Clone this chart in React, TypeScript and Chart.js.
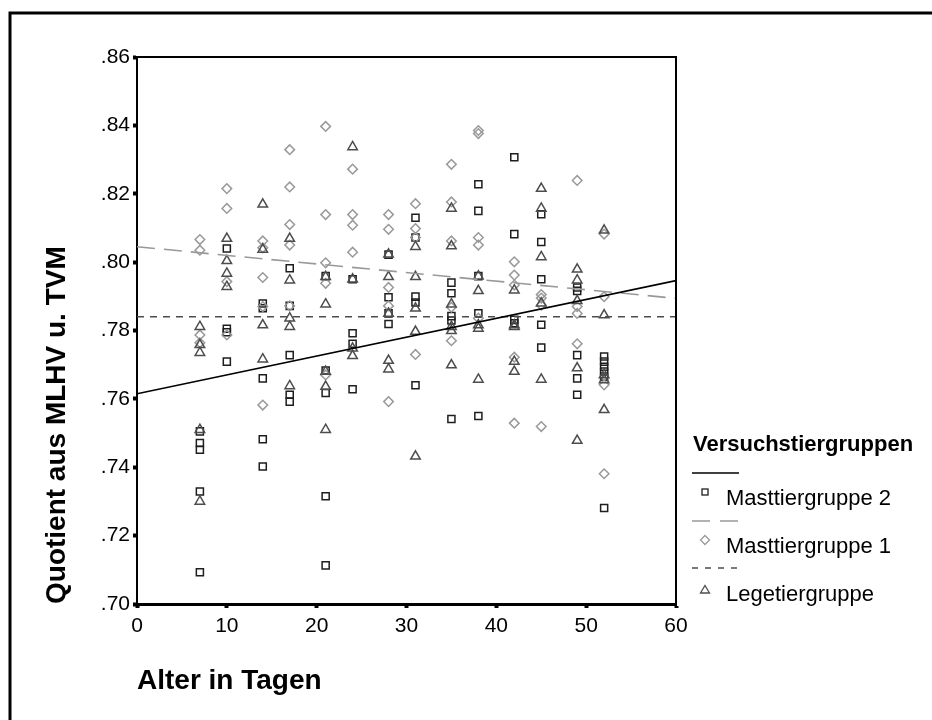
import React, { useEffect, useRef } from 'react';
import { Chart, registerables } from 'chart.js';

Chart.register(...registerables);

// ---- data ----
const ages = [7, 10, 14, 17, 21, 24, 28, 31, 35, 38, 42, 45, 49, 52];

const mast2Values = [
  [0.7505, 0.7471, 0.7451, 0.7329, 0.7093],
  [0.804, 0.7805, 0.7795, 0.7709],
  [0.7879, 0.7865, 0.766, 0.7482, 0.7402],
  [0.7982, 0.7872, 0.7728, 0.7612, 0.7592],
  [0.7959, 0.7683, 0.7617, 0.7315, 0.7113],
  [0.795, 0.7792, 0.7761, 0.7628],
  [0.8022, 0.7897, 0.785, 0.7819],
  [0.813, 0.8072, 0.7899, 0.7882, 0.764],
  [0.794, 0.7909, 0.7842, 0.7829, 0.7541],
  [0.8228, 0.815, 0.7959, 0.785, 0.755],
  [0.8307, 0.8082, 0.7831, 0.7821],
  [0.814, 0.8059, 0.795, 0.7817, 0.775],
  [0.7926, 0.7916, 0.7728, 0.766, 0.7612],
  [0.7724, 0.7709, 0.7694, 0.768, 0.7665, 0.7281],
];

const mast1Values = [
  [0.8066, 0.8035, 0.7787, 0.7764],
  [0.8215, 0.8157, 0.7943, 0.7787],
  [0.8062, 0.8042, 0.7955, 0.787, 0.7582],
  [0.8329, 0.822, 0.811, 0.805, 0.7872],
  [0.8397, 0.8139, 0.7998, 0.7938, 0.767],
  [0.8272, 0.8139, 0.8108, 0.8029],
  [0.8139, 0.8096, 0.7926, 0.7872, 0.7592],
  [0.8171, 0.8098, 0.8072, 0.773],
  [0.8286, 0.8176, 0.8062, 0.7868, 0.777],
  [0.8385, 0.8376, 0.8072, 0.805, 0.7836],
  [0.8001, 0.7962, 0.7933, 0.7722, 0.7529],
  [0.7905, 0.7895, 0.7874, 0.7519],
  [0.8239, 0.787, 0.785, 0.7761],
  [0.8082, 0.7899, 0.7641, 0.7381],
];

const legeValues = [
  [0.7811, 0.7758, 0.7735, 0.751, 0.73],
  [0.8069, 0.8004, 0.7967, 0.7928],
  [0.8169, 0.8037, 0.7816, 0.7716],
  [0.8069, 0.7947, 0.7836, 0.7811, 0.7638],
  [0.7957, 0.7877, 0.768, 0.7636, 0.751],
  [0.8337, 0.795, 0.7748, 0.7726],
  [0.8023, 0.7957, 0.785, 0.7712, 0.7687],
  [0.8045, 0.7957, 0.7865, 0.7797, 0.7432],
  [0.8157, 0.8047, 0.7877, 0.7811, 0.7799, 0.7699],
  [0.7959, 0.7916, 0.7816, 0.7806, 0.7657],
  [0.7918, 0.7816, 0.7811, 0.7709, 0.768],
  [0.8215, 0.8157, 0.8015, 0.788, 0.7657],
  [0.7979, 0.7947, 0.7887, 0.769, 0.7478],
  [0.8093, 0.7845, 0.767, 0.7655, 0.7568],
];

// fit lines (end values at x = 0 and x = 60)
const fitX = [0, 60];
const mast2Fit = [0.7615, 0.7946];
const mast1Fit = [0.8045, 0.7894];
const legeFit = [0.784, 0.784];

const xTicks = [0, 10, 20, 30, 40, 50, 60];
const yTicks = [0.7, 0.72, 0.74, 0.76, 0.78, 0.8, 0.82, 0.84, 0.86];

const seriesNames = ['Masttiergruppe 2', 'Masttiergruppe 1', 'Legetiergruppe'];
const legendTitle = 'Versuchstiergruppen';
const xTitle = 'Alter in Tagen';
const yTitle = 'Quotient aus MLHV u. TVM';

// ---- styles ----
const FONT = '"Liberation Sans", Arial, sans-serif';
const C_SQ = '#1e1e1e';
const C_DI = '#999999';
const C_TR = '#4d4d4d';

function toPoints(values: number[][]) {
  const pts: { x: number; y: number }[] = [];
  ages.forEach((a, i) => values[i].forEach((v) => pts.push({ x: a, y: v })));
  return pts;
}

function fitPoints(fit: number[]) {
  return fitX.map((x, i) => ({ x, y: fit[i] }));
}

const decorPlugin = {
  id: 'decor',
  afterDraw(chart: any) {
    const ctx = chart.ctx as CanvasRenderingContext2D;
    const a = chart.chartArea;
    ctx.save();
    // outer frame (left and top edges)
    ctx.strokeStyle = '#000';
    ctx.lineWidth = 3;
    ctx.beginPath();
    ctx.moveTo(10, 720);
    ctx.lineTo(10, 13);
    ctx.lineTo(932, 13);
    ctx.stroke();

    // chart area top and right edges
    ctx.lineWidth = 2;
    ctx.beginPath();
    ctx.moveTo(a.left, a.top);
    ctx.lineTo(a.right, a.top);
    ctx.lineTo(a.right, a.bottom);
    ctx.stroke();

    // legend
    const lx = 692;
    const lw = 47;
    const mx = 705;
    const tx = 726;
    ctx.fillStyle = '#000';
    ctx.textBaseline = 'alphabetic';
    ctx.textAlign = 'left';
    ctx.font = 'bold 22px ' + FONT;
    ctx.fillText(legendTitle, 693, 451);

    const drawLine = (y: number, color: string, dash: number[]) => {
      ctx.save();
      ctx.strokeStyle = color;
      ctx.lineWidth = 1.5;
      ctx.setLineDash(dash);
      ctx.beginPath();
      ctx.moveTo(lx, y);
      ctx.lineTo(lx + lw, y);
      ctx.stroke();
      ctx.restore();
    };
    ctx.font = '22px ' + FONT;

    // Masttiergruppe 2
    drawLine(473, '#000', []);
    ctx.strokeStyle = C_SQ;
    ctx.lineWidth = 1.3;
    ctx.strokeRect(mx - 3, 492 - 3, 6, 6);
    ctx.fillText(seriesNames[0], tx, 505);

    // Masttiergruppe 1
    drawLine(521, C_DI, [18, 10]);
    ctx.strokeStyle = C_DI;
    ctx.beginPath();
    ctx.moveTo(mx, 540 - 4.5);
    ctx.lineTo(mx + 4.5, 540);
    ctx.lineTo(mx, 540 + 4.5);
    ctx.lineTo(mx - 4.5, 540);
    ctx.closePath();
    ctx.stroke();
    ctx.fillText(seriesNames[1], tx, 553);

    // Legetiergruppe
    drawLine(568, C_TR, [6, 7]);
    ctx.strokeStyle = C_TR;
    ctx.beginPath();
    ctx.moveTo(mx, 590 - 4.5);
    ctx.lineTo(mx + 4.5, 590 + 3);
    ctx.lineTo(mx - 4.5, 590 + 3);
    ctx.closePath();
    ctx.stroke();
    ctx.fillText(seriesNames[2], tx, 601);

    ctx.restore();
  },
};

export default function App() {
  const ref = useRef<HTMLCanvasElement | null>(null);

  useEffect(() => {
    if (!ref.current) return;
    const chart = new Chart(ref.current, {
      type: 'scatter',
      data: {
        datasets: [
          {
            type: 'line',
            label: seriesNames[0] + ' fit',
            data: fitPoints(mast2Fit),
            borderColor: '#000',
            borderWidth: 1.6,
            pointRadius: 0,
            order: 0,
          } as any,
          {
            type: 'line',
            label: seriesNames[1] + ' fit',
            data: fitPoints(mast1Fit),
            borderColor: C_DI,
            borderWidth: 1.6,
            borderDash: [18, 9],
            pointRadius: 0,
            order: 0,
          } as any,
          {
            type: 'line',
            label: seriesNames[2] + ' fit',
            data: fitPoints(legeFit),
            borderColor: C_TR,
            borderWidth: 1.5,
            borderDash: [7, 6],
            pointRadius: 0,
            order: 0,
          } as any,
          {
            label: seriesNames[2],
            data: toPoints(legeValues),
            pointStyle: 'triangle',
            pointRadius: 5.5,
            borderColor: C_TR,
            backgroundColor: 'rgba(0,0,0,0)',
            borderWidth: 1.5,
            order: 1,
          },
          {
            label: seriesNames[1],
            data: toPoints(mast1Values),
            pointStyle: 'rectRot',
            pointRadius: 4.8,
            borderColor: C_DI,
            backgroundColor: 'rgba(0,0,0,0)',
            borderWidth: 1.5,
            order: 2,
          },
          {
            label: seriesNames[0],
            data: toPoints(mast2Values),
            pointStyle: 'rect',
            pointRadius: 5,
            borderColor: C_SQ,
            backgroundColor: 'rgba(0,0,0,0)',
            borderWidth: 1.5,
            order: 3,
          },
        ],
      },
      options: {
        animation: false,
        responsive: false,
        devicePixelRatio: 1,
        layout: { padding: { top: 57, right: 256, left: 0, bottom: 0 } },
        plugins: {
          legend: { display: false },
          tooltip: { enabled: false },
        },
        scales: {
          x: {
            type: 'linear',
            min: 0,
            max: 60,
            afterBuildTicks: (s: any) => {
              s.ticks = xTicks.map((v) => ({ value: v }));
            },
            afterFit: (s: any) => {
              s.height = 116;
            },
            ticks: {
              color: '#000',
              font: { family: FONT, size: 21 },
              padding: 6,
              maxRotation: 0,
            },
            grid: {
              drawOnChartArea: false,
              drawTicks: true,
              tickLength: 4,
              tickWidth: 4,
              tickColor: '#000',
            },
            border: { display: true, color: '#000', width: 3 },
            title: {
              display: true,
              text: xTitle,
              align: 'start',
              color: '#000',
              font: { family: FONT, size: 28, weight: 'bold' },
              padding: { top: 0, bottom: 22 },
            },
          },
          y: {
            type: 'linear',
            min: 0.7,
            max: 0.86,
            afterBuildTicks: (s: any) => {
              s.ticks = yTicks.map((v) => ({ value: v }));
            },
            afterFit: (s: any) => {
              s.width = 137;
            },
            ticks: {
              color: '#000',
              font: { family: FONT, size: 21 },
              padding: 3,
              callback: (v: any) => Number(v).toFixed(2).replace(/^0/, ''),
            },
            grid: {
              drawOnChartArea: false,
              drawTicks: true,
              tickLength: 4,
              tickWidth: 4,
              tickColor: '#000',
            },
            border: { display: true, color: '#000', width: 2 },
            title: {
              display: true,
              text: yTitle,
              align: 'start',
              color: '#000',
              font: { family: FONT, size: 28, weight: 'bold' },
              padding: { top: 40, bottom: 0 },
            },
          },
        },
      },
      plugins: [decorPlugin],
    });
    return () => chart.destroy();
  }, []);

  return (
    <div style={{ position: 'absolute', left: 0, top: 0, width: 932, height: 720, background: '#fff' }}>
      <canvas ref={ref} width={932} height={720} style={{ display: 'block' }} />
    </div>
  );
}
